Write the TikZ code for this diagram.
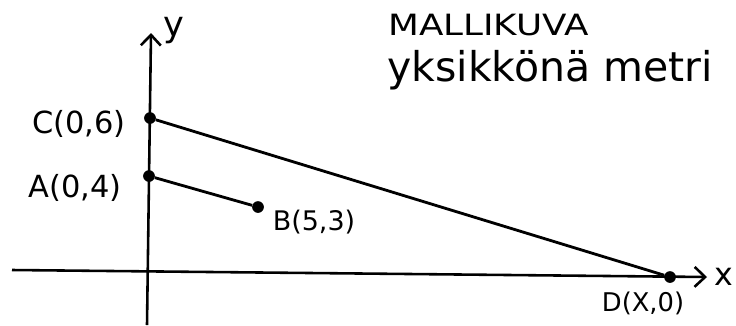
\documentclass[tikz,border=0pt]{standalone}
\usepackage{fontspec}
\setmainfont{DejaVu Sans}
\usetikzlibrary{arrows.meta}
\begin{document}
\begin{tikzpicture}[x=0.03cm,y=-0.03cm,
  axis/.style={line width=2.2pt, -{Straight Barb[length=9pt,width=17pt,line width=2.2pt]}},
  seg/.style={line width=2.4pt},
  pt/.style={circle,fill,inner sep=0pt,minimum size=10pt},
  lab/.style={font=\fontsize{25}{27}\selectfont, inner sep=0pt},
  big/.style={font=\fontsize{35}{38}\selectfont, inner sep=0pt}]
\useasboundingbox (0,0) rectangle (736,325);
% axes
\coordinate (xs) at (12,270);
\coordinate (xe) at (707,277);
\coordinate (ys) at (147,325);
\coordinate (ye) at (151,33);
\draw[axis] (xs) -- (xe);
\draw[axis] (ys) -- (ye);
\node[lab, font=\fontsize{27}{30}\selectfont] (xl) at (724,277) {x};
\node[lab, font=\fontsize{30}{32}\selectfont] (yl) at (174,31) {y};
% points
\node[pt] (C) at (150,118) {};
\node[pt] (A) at (149,176) {};
\node[pt] (B) at (258,207) {};
\node[pt] (D) at (670,277) {};
\draw[seg] (C) -- (D);
\draw[seg] (A) -- (B);
% labels
\node[lab, font=\fontsize{26}{28}\selectfont] (Cl) at (79,124) {C(0,6)};
\node[lab, font=\fontsize{26}{28}\selectfont] (Al) at (75,188) {A(0,4)};
\node[lab, font=\fontsize{23}{26}\selectfont] (Bl) at (314,222) {B(5,3)};
\node[lab, font=\fontsize{22}{25}\selectfont] (Dl) at (643,303) {D(X,0)};
\node[lab, anchor=west] (t1) at (388,25) {\scalebox{1.22}[1]{MALLIKUVA}};
\node[big, anchor=west] (t2) at (387,70) {yksikkönä metri};
\end{tikzpicture}
\end{document}
